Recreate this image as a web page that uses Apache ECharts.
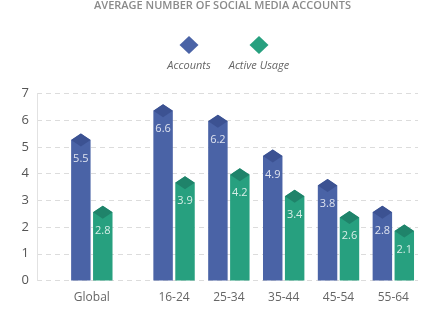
<!DOCTYPE html>
<html>
<head>
<meta charset="utf-8">
<script src="https://cdn.jsdelivr.net/npm/echarts@6/dist/echarts.min.js"></script>
<style>html,body{margin:0;padding:0;background:#fff}#c{width:445px;height:327px}</style>
</head>
<body>
<div id="c"></div>
<script>
const title = 'AVERAGE NUMBER OF SOCIAL MEDIA ACCOUNTS';
const categories = ['Global', '16-24', '25-34', '35-44', '45-54', '55-64'];
const seriesNames = ['Accounts', 'Active Usage'];
const accounts = [5.5, 6.6, 6.2, 4.9, 3.8, 2.8];
const activeUsage = [2.8, 3.9, 4.2, 3.4, 2.6, 2.1];
const yTicks = [0, 1, 2, 3, 4, 5, 6, 7];

const colors = ['#4a63a6', '#27a07f'];
const darkColors = ['#3c5292', '#1f836a'];

// Global stands apart; age groups follow after a half-step gap
function slot(i) { return i === 0 ? 0 : i + 0.5; }
const slotLabel = {};
categories.forEach((c, i) => { slotLabel[slot(i).toFixed(1)] = c; });

function makeRender(sIdx) {
  return function (params, api) {
    const xv = api.value(0), yv = api.value(1);
    const unit = api.size([1, 0])[0];
    const bw = unit * 0.355;
    const off = unit * 0.2 * (sIdx === 0 ? -1 : 1);
    const peak = api.coord([xv, yv]);
    const base = api.coord([xv, 0]);
    const cx = peak[0] + off;
    const l = cx - bw / 2, r = cx + bw / 2;
    const py = peak[1], dh = 6.5;
    return {
      type: 'group',
      children: [
        { type: 'polygon', shape: { points: [[l, base[1]], [l, py + dh], [cx, py], [r, py + dh], [r, base[1]]] },
          style: { fill: colors[sIdx] } },
        { type: 'polygon', shape: { points: [[cx, py], [r, py + dh], [cx, py + 2 * dh], [l, py + dh]] },
          style: { fill: darkColors[sIdx] } },
        { type: 'text', style: { x: cx, y: py + 25, text: yv.toFixed(1), fill: 'rgba(255,255,255,0.82)',
          font: '11px "Open Sans", sans-serif', align: 'center', verticalAlign: 'middle' } }
      ]
    };
  };
}

const chart = echarts.init(document.getElementById('c'), null, { renderer: 'canvas' });
chart.setOption({
  animation: false,
  title: {
    text: title, left: 'center', top: 0, padding: 0,
    textStyle: { fontSize: 11, fontWeight: 600, color: '#8a8a8a', fontFamily: 'Open Sans' }
  },
  grid: { left: 37, right: 27, top: 93.5, bottom: 46.5 },
  xAxis: {
    type: 'value', min: -1, max: 5.95, interval: 0.5,
    axisLine: { show: false }, axisTick: { show: false }, splitLine: { show: false },
    axisLabel: {
      formatter: v => slotLabel[Number(v).toFixed(1)] || '',
      color: '#666', fontSize: 12, margin: 11, fontFamily: 'Open Sans',
      showMinLabel: true, showMaxLabel: true
    }
  },
  yAxis: {
    type: 'value', min: yTicks[0], max: yTicks[yTicks.length - 1], interval: 1,
    axisLine: { show: true, onZero: false, lineStyle: { color: '#e2e2e2' } }, axisTick: { show: false },
    axisLabel: { color: '#555', fontSize: 13, margin: 8, fontFamily: 'Open Sans' },
    splitLine: { show: true, lineStyle: { color: '#dcdcdc', type: [5, 4] } }
  },
  graphic: [
    { type: 'polygon', shape: { points: [[189, 36], [198.5, 45], [189, 54], [179.5, 45]] }, style: { fill: colors[0] } },
    { type: 'polygon', shape: { points: [[259, 36], [268.5, 45], [259, 54], [249.5, 45]] }, style: { fill: colors[1] } },
    { type: 'text', style: { x: 189, y: 66, text: seriesNames[0], align: 'center', verticalAlign: 'middle',
      fill: '#666', font: 'italic 11px "Open Sans", sans-serif' } },
    { type: 'text', style: { x: 259, y: 66, text: seriesNames[1], align: 'center', verticalAlign: 'middle',
      fill: '#666', font: 'italic 11px "Open Sans", sans-serif' } }
  ],
  series: [
    { name: seriesNames[0], type: 'custom', renderItem: makeRender(0),
      data: accounts.map((v, i) => [slot(i), v]) },
    { name: seriesNames[1], type: 'custom', renderItem: makeRender(1),
      data: activeUsage.map((v, i) => [slot(i), v]) }
  ]
});
</script>
</body>
</html>
